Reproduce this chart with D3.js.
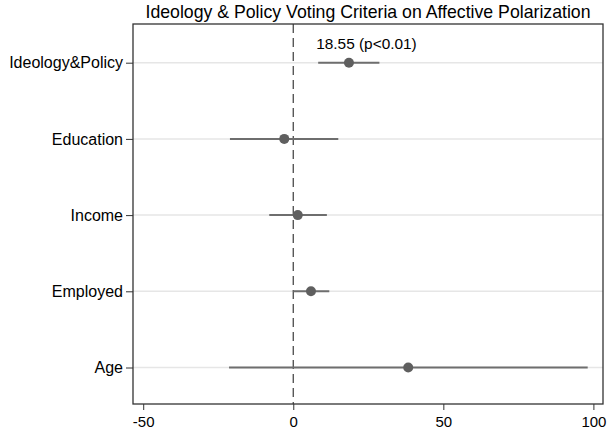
<!DOCTYPE html>
<html><head><meta charset="utf-8">
<script src="https://cdn.jsdelivr.net/npm/d3@7"></script>
<style>body{margin:0;background:#fff}svg{display:block}text{font-family:"Liberation Sans",Arial,sans-serif}</style>
</head><body><svg id="c" width="608" height="430"></svg>
<script>
const categories = ["Ideology&Policy","Education","Income","Employed","Age"];
const estimates = [18.55, -3.0, 1.5, 5.9, 38.3];
const lower = [8.3, -21.1, -8.0, 0.0, -21.4];
const upper = [28.7, 15.0, 11.2, 12.0, 98.1];
const xTicks = [-50, 0, 50, 100];
const annotation = "18.55 (p<0.01)";
const title = "Ideology & Policy Voting Criteria on Affective Polarization";

const svg = d3.select("#c");
const L = 133, R = 603, T = 24, B = 404;
const x = d3.scaleLinear().domain([-53.4, 103.2]).range([L, R]);
const y = d3.scalePoint().domain(categories).range([62.7, 367.5]);
const FONT = "Liberation Sans, Arial, sans-serif";

// grid lines
svg.append("g").selectAll("line").data(categories).join("line")
  .attr("x1", L).attr("x2", R).attr("y1", d => y(d)).attr("y2", d => y(d))
  .attr("stroke", "#e6e6e6").attr("stroke-width", 1.5);

// zero reference
svg.append("line").attr("x1", x(0)).attr("x2", x(0)).attr("y1", T).attr("y2", B)
  .attr("stroke", "#4a4a4a").attr("stroke-width", 1.3).attr("stroke-dasharray", "9,5");

const data = categories.map((c, i) => ({c, est: estimates[i], lo: lower[i], hi: upper[i]}));
svg.append("g").selectAll("line").data(data).join("line")
  .attr("x1", d => x(d.lo)).attr("x2", d => x(d.hi))
  .attr("y1", d => y(d.c)).attr("y2", d => y(d.c))
  .attr("stroke", "#6e6e6e").attr("stroke-width", 2);
svg.append("g").selectAll("circle").data(data).join("circle")
  .attr("cx", d => x(d.est)).attr("cy", d => y(d.c)).attr("r", 5)
  .attr("fill", "#5f5f5f");

// frame
svg.append("rect").attr("x", L).attr("y", T).attr("width", R - L).attr("height", B - T)
  .attr("fill", "none").attr("stroke", "#333").attr("stroke-width", 1.3);

// x axis
const xa = svg.append("g").attr("transform", `translate(0,${B})`)
  .call(d3.axisBottom(x).tickValues(xTicks).tickSize(6).tickSizeOuter(0).tickPadding(6.5)
    .tickFormat(d => String(d)));
xa.select(".domain").remove();
xa.selectAll("line").attr("stroke", "#333");
xa.selectAll("text").attr("font-size", 15).attr("fill", "#000").attr("font-family", FONT);

// y axis
const ya = svg.append("g").attr("transform", `translate(${L},0)`)
  .call(d3.axisLeft(y).tickSize(7).tickPadding(3));
ya.select(".domain").remove();
ya.selectAll("line").attr("stroke", "#333");
ya.selectAll("text").attr("font-size", 16).attr("fill", "#000").attr("font-family", FONT);

// annotation
svg.append("text").attr("x", x(lower[0]) - 2).attr("y", 49.3)
  .attr("text-anchor", "start").attr("font-size", 15.4).text(annotation);

// title
svg.append("text").attr("x", (L + R) / 2).attr("y", 18).attr("text-anchor", "middle")
  .attr("font-size", 17.7).text(title);
</script></body></html>
